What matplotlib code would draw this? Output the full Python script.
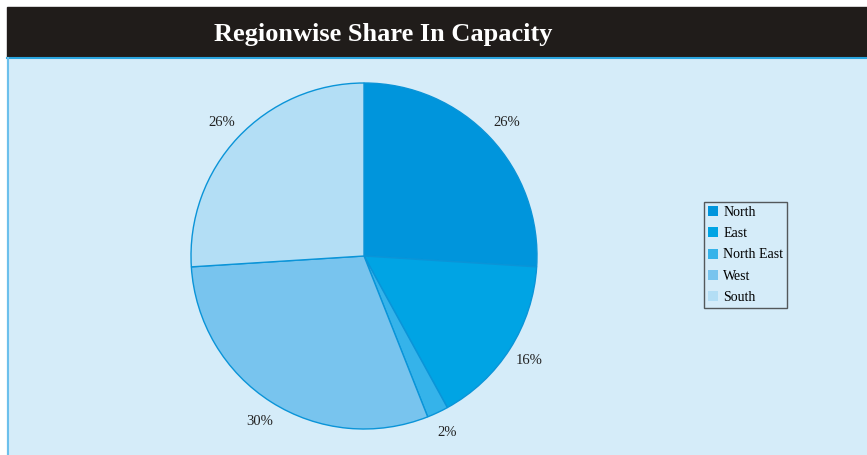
import matplotlib.pyplot as plt
from matplotlib.patches import Rectangle
from matplotlib.lines import Line2D

# Data
regions = ["North", "East", "North East", "West", "South"]
shares = [26, 16, 2, 30, 26]
colors = ["#0095dc", "#00a4e4", "#35b3ea", "#78c4ee", "#b3def5"]

W, H = 867, 455
plt.rcParams["font.family"] = ["Liberation Serif", "DejaVu Serif"]

fig = plt.figure(figsize=(W / 100, H / 100), dpi=100)
fig.patch.set_facecolor("white")

# header bar and panel
fig.patches.append(Rectangle((7 / W, 1 - 58 / H), 1 - 7 / W, 51 / H,
                             transform=fig.transFigure, color="#201c1a", zorder=-2))
fig.patches.append(Rectangle((7 / W, 0), 1 - 7 / W, 1 - 58 / H,
                             transform=fig.transFigure, color="#d5ecf9", zorder=-2))
fig.lines.append(Line2D([7 / W, 1], [1 - 58 / H, 1 - 58 / H], transform=fig.transFigure,
                        color="#2aa6e0", lw=1.5, zorder=-1))
fig.lines.append(Line2D([7.5 / W, 7.5 / W], [0, 1 - 58 / H], transform=fig.transFigure,
                        color="#6cc0ec", lw=1.5, zorder=-1))

fig.text(383 / W, 1 - 34 / H, "Regionwise Share In Capacity", color="white",
         fontsize=19, fontweight="bold", ha="center", va="center")

# pie
cx, cy, r = 364, 256, 173
ax = fig.add_axes([(cx - r) / W, (H - cy - r) / H, 2 * r / W, 2 * r / H])

wedges, texts, autotexts = ax.pie(
    shares, colors=colors, startangle=90, counterclock=False, radius=1,
    autopct="%d%%", pctdistance=1.13,
    wedgeprops=dict(edgecolor="#0a94d8", linewidth=1),
    textprops=dict(fontsize=10.5, color="#222222"),
)
ax.set_xlim(-1, 1)
ax.set_ylim(-1, 1)
ax.axis("off")

leg = fig.legend(wedges, regions, loc="center", bbox_to_anchor=(745.5 / W, 1 - 255 / H),
                 fontsize=10, frameon=True, fancybox=False, edgecolor="#333333",
                 facecolor="#d5ecf9", handlelength=0.7, handleheight=0.7,
                 handletextpad=0.4, labelspacing=0.6, borderpad=0.3, borderaxespad=0)
leg.get_frame().set_linewidth(1)
for h in leg.legend_handles:
    h.set_edgecolor("none")

fig.savefig("out.png", dpi=100)
